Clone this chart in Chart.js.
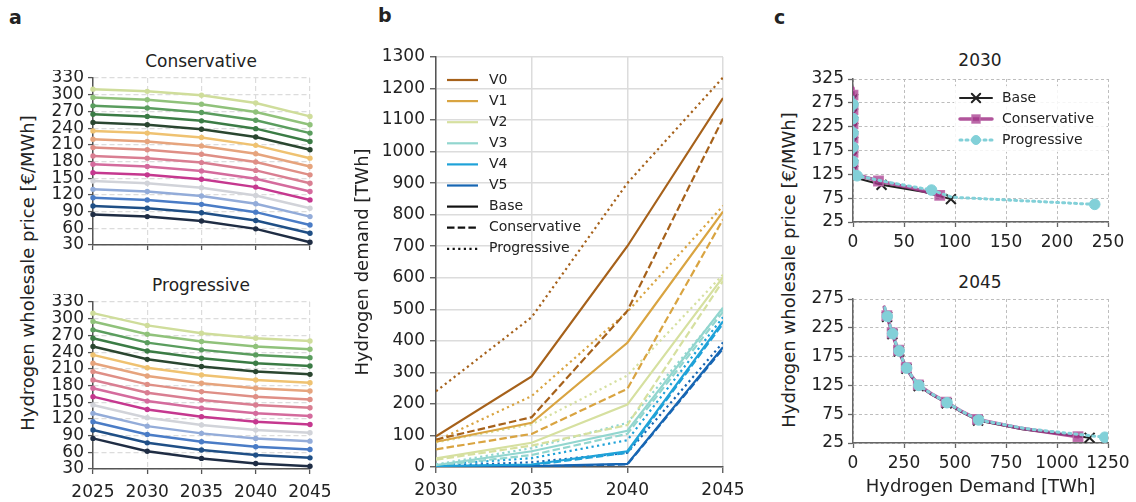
<!DOCTYPE html>
<html>
<head>
<meta charset="utf-8">
<script src="https://cdn.jsdelivr.net/npm/chart.js@4.4.1/dist/chart.umd.min.js"></script>
<style>
  body { margin: 0; background: #fff; }
  #fig { position: relative; width: 1136px; height: 502px; overflow: hidden; font-family: "DejaVu Sans", sans-serif; color: #222; }
  #fig canvas { position: absolute; }
  .txt { position: absolute; white-space: nowrap; transform: translate(-50%, -50%); font-size: 17px; line-height: 1; }
  .rot { transform: translate(-50%, -50%) rotate(-90deg); font-size: 18px; }
  .letter { position: absolute; font-weight: bold; font-size: 19px; line-height: 19px; }
</style>
</head>
<body>
<div id="fig">
  <div class="letter" style="left:9px;top:8px">a</div>
  <div class="letter" style="left:378px;top:6px">b</div>
  <div class="letter" style="left:774px;top:8px">c</div>
  <div class="txt" style="left:201px;top:61px">Conservative</div>
  <div class="txt" style="left:201px;top:285px">Progressive</div>
  <div class="txt" style="left:980px;top:60px">2030</div>
  <div class="txt" style="left:980px;top:282px">2045</div>
  <div class="txt rot" style="left:28px;top:273px">Hydrogen wholesale price [€/MWh]</div>
  <div class="txt rot" style="left:789px;top:270px">Hydrogen wholesale price [€/MWh]</div>
  <canvas id="a1"></canvas>
  <canvas id="a2"></canvas>
  <canvas id="b"></canvas>
  <canvas id="c1"></canvas>
  <canvas id="c2"></canvas>
</div>
<script>
// ---- panel a: price paths per demand level (bottom -> top)
const years = [2025, 2030, 2035, 2040, 2045];
const consPrice = [
  [85, 81, 73, 59, 35],
  [100, 96, 88, 74, 51],
  [115, 111, 103, 89, 66],
  [130, 126, 118, 104, 81],
  [145, 141, 133, 119, 96],
  [160, 156, 148, 134, 111],
  [175, 171, 163, 149, 126],
  [190, 186, 178, 164, 141],
  [205, 201, 193, 179, 156],
  [220, 216, 208, 194, 171],
  [235, 231, 223, 209, 186],
  [250, 246, 238, 224, 201],
  [265, 261, 253, 239, 216],
  [280, 276, 268, 254, 231],
  [295, 291, 283, 269, 246],
  [310, 306, 299, 285, 261]
];
const progPrice = [
  [85, 62, 49, 40, 35],
  [100, 77, 64, 55, 50],
  [115, 92, 79, 70, 65],
  [130, 107, 94, 85, 80],
  [145, 122, 109, 100, 95],
  [160, 137, 124, 115, 110],
  [175, 152, 139, 130, 125],
  [190, 167, 154, 145, 140],
  [205, 182, 169, 160, 155],
  [220, 197, 184, 175, 170],
  [235, 212, 199, 190, 185],
  [250, 227, 214, 205, 200],
  [265, 242, 229, 220, 215],
  [280, 257, 244, 235, 230],
  [295, 272, 259, 250, 245],
  [310, 288, 274, 265, 260]
];
const levelColors = ["#1f2d44", "#1f4f86", "#4a7cc6", "#93acd9", "#d1d3d9", "#c5388f", "#d46b9d", "#d97e92",
  "#df8f86", "#e6a47d", "#efc271", "#2a4630", "#3b7c45", "#5a9d5e", "#90c27b", "#cfdd9b"];

// ---- panel b: hydrogen demand, rows V0..V5
const bYears = [2030, 2035, 2040, 2045];
const variants = ["V0", "V1", "V2", "V3", "V4", "V5"];
const demandBase = [[97, 287, 700, 1170], [80, 140, 394, 810], [27, 77, 198, 602], [6, 50, 115, 505], [3, 8, 50, 462], [1, 3, 10, 380]];
const demandCons = [[87, 158, 495, 1105], [56, 105, 248, 785], [23, 68, 133, 590], [4, 38, 105, 492], [2, 6, 45, 455], [0, 2, 8, 375]];
const demandProg = [[240, 475, 900, 1235], [83, 225, 492, 828], [78, 135, 290, 610], [8, 60, 140, 500], [7, 28, 85, 475], [3, 15, 45, 395]];
const variantColors = ["#a6611a", "#d9a441", "#d6e0a0", "#92d6cf", "#1fa2d8", "#1766b3"];

// ---- panel c: price vs demand
const c30BasePrice = [298, 283, 268, 253, 238, 223, 208, 193, 178, 163, 148, 133, 118, 103, 88, 73];
const c30BaseDemand = [0, 0, 0, 0, 0, 0, 0, 0, 0, 0, 0, 0, 2, 28, 70, 96];
const c30ConsPrice = [306, 291, 276, 261, 246, 231, 216, 201, 186, 171, 156, 141, 126, 111, 96, 81];
const c30ConsDemand = [0, 0, 0, 0, 0, 0, 0, 0, 0, 0, 0, 0, 1, 25, 58, 85];
const c30ProgPrice = [287, 272, 257, 242, 227, 212, 197, 182, 167, 152, 137, 122, 107, 92, 77, 62];
const c30ProgDemand = [0, 0, 0, 0, 0, 0, 0, 0, 0, 0, 0, 4, 38, 77, 97, 237];
const c45BasePrice = [259, 244, 229, 214, 199, 184, 169, 154, 139, 124, 109, 94, 79, 64, 49, 34];
const c45BaseDemand = [155, 167, 180, 193, 207, 225, 242, 262, 288, 322, 385, 459, 530, 613, 830, 1160];
const c45ConsPrice = [261, 246, 231, 216, 201, 186, 171, 156, 141, 126, 111, 96, 81, 66, 51, 36];
const c45ConsDemand = [153, 166, 179, 192, 206, 223, 241, 261, 287, 320, 382, 456, 527, 610, 815, 1103];
const c45ProgPrice = [260, 245, 230, 215, 200, 185, 170, 155, 140, 125, 110, 95, 80, 65, 50, 35];
const c45ProgDemand = [156, 168, 181, 194, 208, 226, 243, 263, 290, 323, 387, 461, 533, 616, 845, 1234];

Chart.defaults.font.family = "'DejaVu Sans', sans-serif";
Chart.defaults.font.size = 17;
Chart.defaults.color = "#222";
Chart.defaults.animation = false;
Chart.defaults.plugins.legend.display = false;
Chart.defaults.plugins.tooltip.enabled = false;

function setupCanvas(id, box) {
    const c = document.getElementById(id);
    c.width = box.r - box.l;
    c.height = box.b - box.t;
    c.style.left = box.l + "px";
    c.style.top = box.t + "px";
    c.style.width = c.width + "px";
    c.style.height = c.height + "px";
    return c;
}

// fixes the plot area at page coords "area" inside canvas "box"
function frame(box, area, st, xr, yr) {
    const yW = area.x0 - box.l, xH = box.b - area.y1;
    const axis = (r, isX) => ({
        type: "linear", min: r.min, max: r.max,
        ticks: { stepSize: r.step, display: r.labels !== false, padding: isX ? st.padX : st.pad, autoSkip: false, maxRotation: 0, callback: v => String(v) },
        grid: { color: st.grid, lineWidth: st.gridW, tickColor: st.spine, tickLength: st.tick, tickWidth: 1.3, tickBorderDash: [] },
        border: { color: st.spine, width: 1.5, dash: st.dash },
        title: r.title ? { display: true, text: r.title, font: { size: 18 }, color: "#222" } : { display: false },
        afterFit: isX
            ? s => { s.height = xH; s.paddingLeft = 0; s.paddingRight = 0; }
            : s => { s.width = yW; s.paddingTop = 0; s.paddingBottom = 0; }
    });
    return {
        responsive: false,
        layout: { padding: { left: 0, top: area.y0 - box.t, right: box.r - area.x1, bottom: 0 } },
        scales: { x: axis(xr, true), y: axis(yr, false) }
    };
}

// ---- panel a
const aStyle = { grid: "#dcdcdc", gridW: 1.2, dash: [5, 3], spine: "#555", tick: 5, pad: 4, padX: 8 };
function aDatasets(rows) {
    return rows.map((row, i) => ({
        data: row.map((v, j) => ({ x: years[j], y: v })),
        borderColor: levelColors[i], backgroundColor: levelColors[i],
        borderWidth: 2.5, pointRadius: 2.7, pointBorderWidth: 0, clip: false
    }));
}
const a1Box = { l: 40, t: 70, r: 330, b: 262 };
new Chart(setupCanvas("a1", a1Box), {
    type: "line",
    data: { datasets: aDatasets(consPrice) },
    options: frame(a1Box, { x0: 93, y0: 78, x1: 310, y1: 245 }, aStyle,
        { min: 2025, max: 2045, step: 5, labels: false }, { min: 30, max: 330, step: 30 })
});
const a2Box = { l: 40, t: 294, r: 335, b: 502 };
new Chart(setupCanvas("a2", a2Box), {
    type: "line",
    data: { datasets: aDatasets(progPrice) },
    options: frame(a2Box, { x0: 93, y0: 302, x1: 310, y1: 469 }, aStyle,
        { min: 2025, max: 2045, step: 5 }, { min: 30, max: 330, step: 30 })
});

// ---- panel b
const scenarios = [
    { label: "Base", rows: demandBase, dash: [] },
    { label: "Conservative", rows: demandCons, dash: [7.5, 3.2] },
    { label: "Progressive", rows: demandProg, dash: [2.2, 3.4] }
];
const bDatasets = [];
scenarios.forEach(sc => {
    sc.rows.forEach((row, i) => {
        bDatasets.push({
            data: row.map((v, j) => ({ x: bYears[j], y: v })),
            borderColor: variantColors[i], borderWidth: 2.2, borderDash: sc.dash,
            pointRadius: 0
        });
    });
});
const legendB = {
    id: "legendB",
    afterDraw(chart) {
        const { ctx, chartArea: a } = chart;
        const items = variants.map((v, i) => ({ text: v, color: variantColors[i], dash: [] }))
            .concat(scenarios.map(sc => ({ text: sc.label, color: "#111", dash: sc.dash })));
        ctx.save();
        ctx.font = "14px 'DejaVu Sans'";
        ctx.textBaseline = "middle";
        items.forEach((it, i) => {
            const y = a.top + 23 + i * 21.1;
            ctx.strokeStyle = it.color;
            ctx.lineWidth = 2.2;
            ctx.setLineDash(it.dash);
            ctx.beginPath();
            ctx.moveTo(a.left + 11, y);
            ctx.lineTo(a.left + 42, y);
            ctx.stroke();
            ctx.fillStyle = "#222";
            ctx.fillText(it.text, a.left + 53, y);
        });
        ctx.restore();
    }
};
const bBox = { l: 349, t: 45, r: 750, b: 502 };
new Chart(setupCanvas("b", bBox), {
    type: "line",
    data: { datasets: bDatasets },
    options: frame(bBox, { x0: 436, y0: 57, x1: 723, y1: 467 },
        { grid: "#dcdcdc", gridW: 1.5, dash: [], spine: "#555", tick: 6, pad: 5, padX: 7 },
        { min: 2030, max: 2045, step: 5 }, { min: 0, max: 1300, step: 100, title: "Hydrogen demand [TWh]" }),
    plugins: [legendB]
});

// ---- panel c
const cSeries = [
    { label: "Base", line: "#222", width: 2, dash: [], style: "crossRot", r: 7, fill: "#222", edge: "#222", pbw: 2 },
    { label: "Conservative", line: "rgba(163,55,138,0.85)", width: 3.5, dash: [], style: "rect", r: 6.6, fill: "rgba(163,55,138,0.75)", edge: "rgba(190,105,170,0.9)", pbw: 1.5 },
    { label: "Progressive", line: "#82d0d8", width: 3, dash: [2, 4], style: "circle", r: 5.3, fill: "#82d0d8", edge: "#82d0d8", pbw: 1 }
];
function cDatasets(pairs) {
    // pairs in legend order; reversed so Progressive is drawn on top
    return pairs.map((p, k) => {
        const s = cSeries[k];
        return {
            data: p[0].map((d, j) => ({ x: d, y: p[1][j] })),
            borderColor: s.line, borderWidth: s.width, borderDash: s.dash, borderCapStyle: "round",
            pointStyle: s.style, backgroundColor: s.fill, pointBorderColor: s.edge, pointBorderWidth: s.pbw,
            pointRadius: c => (c.dataIndex % 2 === 1 ? s.r : 0)
        };
    }).reverse();
}
const legendC = {
    id: "legendC",
    afterDraw(chart) {
        const { ctx, chartArea: a } = chart;
        ctx.save();
        ctx.fillStyle = "rgba(255,255,255,0.85)";
        ctx.fillRect(a.left + 101, a.top + 7, 150, 66);
        ctx.font = "14px 'DejaVu Sans'";
        ctx.textBaseline = "middle";
        cSeries.forEach((s, i) => {
            const y = a.top + 19 + i * 21;
            ctx.strokeStyle = s.line;
            ctx.lineWidth = s.width;
            ctx.lineCap = "round";
            ctx.setLineDash(s.dash);
            ctx.beginPath();
            ctx.moveTo(a.left + 107, y);
            ctx.lineTo(a.left + 139, y);
            ctx.stroke();
            ctx.setLineDash([]);
            ctx.fillStyle = s.fill;
            ctx.strokeStyle = s.edge;
            ctx.lineWidth = s.pbw;
            Chart.helpers.drawPoint(ctx, { pointStyle: s.style, radius: s.r * 0.85, borderWidth: s.pbw, rotation: 0 }, a.left + 123, y);
            ctx.fillStyle = "#222";
            ctx.fillText(s.label, a.left + 149, y);
        });
        ctx.restore();
    }
};
const cStyle = { grid: "#bdbdbd", gridW: 1, dash: [3, 2.5], spine: "#666", tick: 5, pad: 4, padX: 5 };
const c1Box = { l: 800, t: 70, r: 1130, b: 250 };
new Chart(setupCanvas("c1", c1Box), {
    type: "line",
    data: { datasets: cDatasets([[c30BaseDemand, c30BasePrice], [c30ConsDemand, c30ConsPrice], [c30ProgDemand, c30ProgPrice]]) },
    options: frame(c1Box, { x0: 853, y0: 78, x1: 1108, y1: 222 }, cStyle,
        { min: 0, max: 250, step: 50 }, { min: 25, max: 325, step: 50 }),
    plugins: [legendC]
});
const c2Box = { l: 800, t: 290, r: 1136, b: 502 };
new Chart(setupCanvas("c2", c2Box), {
    type: "line",
    data: { datasets: cDatasets([[c45BaseDemand, c45BasePrice], [c45ConsDemand, c45ConsPrice], [c45ProgDemand, c45ProgPrice]]) },
    options: frame(c2Box, { x0: 853, y0: 299, x1: 1108, y1: 443 }, cStyle,
        { min: 0, max: 1250, step: 250, title: "Hydrogen Demand [TWh]" }, { min: 25, max: 275, step: 50 })
});
</script>
</body>
</html>
